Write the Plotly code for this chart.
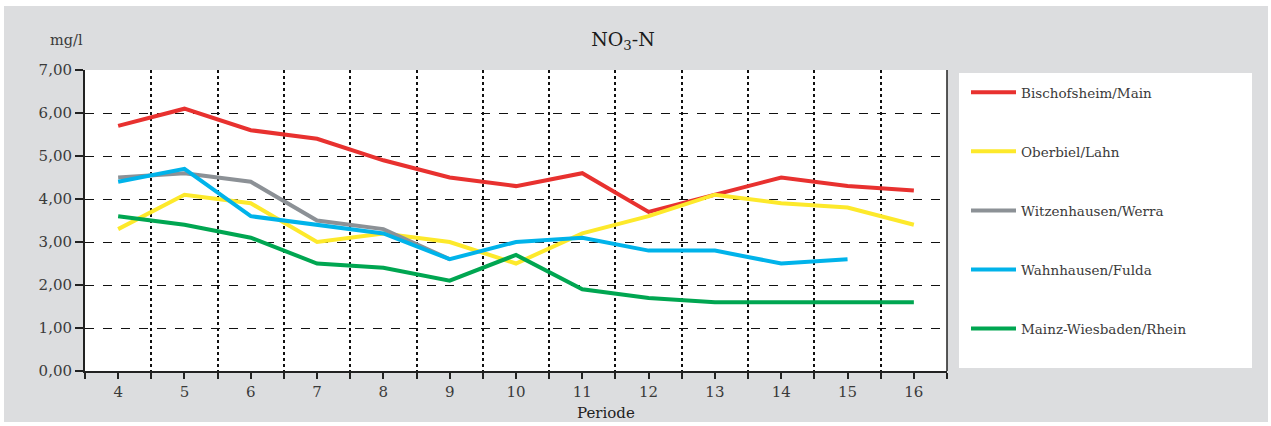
import plotly.graph_objects as go

periods = [4, 5, 6, 7, 8, 9, 10, 11, 12, 13, 14, 15, 16]
bischofsheim = [5.7, 6.1, 5.6, 5.4, 4.9, 4.5, 4.3, 4.6, 3.7, 4.1, 4.5, 4.3, 4.2]
oberbiel = [3.3, 4.1, 3.9, 3.0, 3.2, 3.0, 2.5, 3.2, 3.6, 4.1, 3.9, 3.8, 3.4]
witzenhausen = [4.5, 4.6, 4.4, 3.5, 3.3, 2.6, None, None, None, None, None, None, None]
wahnhausen = [4.4, 4.7, 3.6, 3.4, 3.2, 2.6, 3.0, 3.1, 2.8, 2.8, 2.5, 2.6, None]
mainz = [3.6, 3.4, 3.1, 2.5, 2.4, 2.1, 2.7, 1.9, 1.7, 1.6, 1.6, 1.6, 1.6]

series_names = ["Bischofsheim/Main", "Oberbiel/Lahn", "Witzenhausen/Werra",
                "Wahnhausen/Fulda", "Mainz-Wiesbaden/Rhein"]
series_values = [bischofsheim, oberbiel, witzenhausen, wahnhausen, mainz]
colors = ["#e8312f", "#fde92b", "#8c9196", "#00b3ea", "#00a651"]

W, H = 1271, 426
L, R, T, B = 85, 947, 70, 371
FONT = "DejaVu Serif"
TXT = "#3a3a3a"

fig = go.Figure()
for name, vals, col in zip(series_names, series_values, colors):
    fig.add_trace(go.Scatter(
        x=periods, y=vals, name=name, mode="lines",
        line=dict(color=col, width=4), legendgroup=name,
        connectgaps=False))

pw = R - L
ph = B - T
def px2x(px):
    return (px - L) / pw
def px2y(py):
    return (B - py) / ph

shapes = [
    # white strips outside the gray panel
    dict(type="rect", xref="paper", yref="paper", x0=px2x(0), x1=px2x(4), y0=px2y(H), y1=px2y(0),
         fillcolor="white", line_width=0, layer="below"),
    dict(type="rect", xref="paper", yref="paper", x0=px2x(0), x1=px2x(W), y0=px2y(6), y1=px2y(0),
         fillcolor="white", line_width=0, layer="below"),
    dict(type="rect", xref="paper", yref="paper", x0=px2x(1268), x1=px2x(W), y0=px2y(H), y1=px2y(0),
         fillcolor="white", line_width=0, layer="below"),
    dict(type="rect", xref="paper", yref="paper", x0=px2x(0), x1=px2x(W), y0=px2y(H), y1=px2y(422),
         fillcolor="white", line_width=0, layer="below"),
    # legend box
    dict(type="rect", xref="paper", yref="paper", x0=px2x(959), x1=px2x(1252), y0=px2y(368), y1=px2y(73),
         fillcolor="white", line_width=0, layer="below"),
    # right border
    dict(type="line", xref="paper", yref="paper", x0=1, x1=1, y0=0, y1=1,
         line=dict(color="#222", width=1.5)),
]

fig.update_layout(
    width=W, height=H,
    margin=dict(l=L, r=W - R, t=T, b=H - B, pad=0),
    paper_bgcolor="#dcdddf",
    plot_bgcolor="white",
    separators=",.",
    font=dict(family=FONT, color=TXT, size=14),
    title=dict(text="NO<sub>3</sub>-N", x=623 / W, xanchor="center", xref="container",
               y=1 - 39 / H, yanchor="middle", yref="container",
               font=dict(family=FONT, size=19, color="#1a1a1a")),
    showlegend=True,
    legend=dict(x=px2x(966), y=px2y(77), xanchor="left", yanchor="top",
                xref="paper", yref="paper", itemwidth=45,
                bgcolor="rgba(0,0,0,0)", tracegroupgap=38.5,
                font=dict(family=FONT, size=13.5, color=TXT)),
    shapes=shapes,
    annotations=[
        dict(text="mg/l", xref="paper", yref="paper", x=px2x(66), y=px2y(40),
             xanchor="center", yanchor="middle", showarrow=False,
             font=dict(family=FONT, size=14.5, color=TXT)),
        dict(text="Periode", xref="paper", yref="paper", x=px2x(606), y=px2y(413),
             xanchor="center", yanchor="middle", showarrow=False,
             font=dict(family=FONT, size=15, color="#222")),
    ],
)

fig.update_xaxes(
    range=[3.5, 16.5], tickvals=periods, ticktext=[str(p) for p in periods],
    showgrid=False, zeroline=False,
    showline=True, linecolor="#222", linewidth=2,
    ticks="outside", ticklen=6, tickcolor="#222", tickwidth=1.5,
    tickfont=dict(family=FONT, size=15, color=TXT),
    minor=dict(tick0=3.5, dtick=1, showgrid=True, gridcolor="#111", griddash="dot",
               gridwidth=1.5, ticks="outside", ticklen=6, tickcolor="#222", tickwidth=1.5),
)
fig.update_yaxes(
    range=[0, 7], dtick=1, tick0=0, tickformat=".2f",
    showgrid=True, gridcolor="#111", griddash="dash", gridwidth=1,
    zeroline=False,
    showline=True, linecolor="#222", linewidth=2,
    ticks="outside", ticklen=8, tickcolor="#222", tickwidth=1.5,
    tickfont=dict(family=FONT, size=15, color=TXT),
)

fig.write_html("out.html", config={"displayModeBar": False},
               post_script="document.body.style.margin='0';")
